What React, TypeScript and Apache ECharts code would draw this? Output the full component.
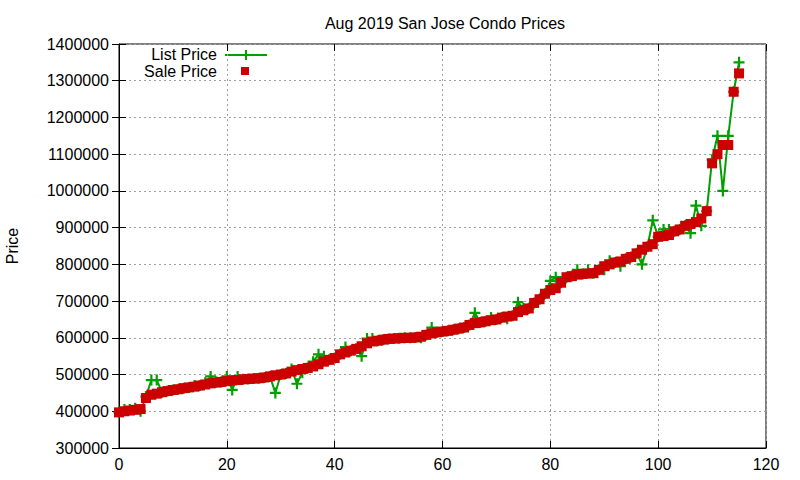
import React, { useEffect, useRef } from "react";
import * as echarts from "echarts";

const xIndex: number[] = Array.from({ length: 116 }, (_, i) => i);

const salePrices: number[] = [
  397000, 400000, 402000, 404000, 406000, 436000, 445000, 448000, 452000, 455000,
  458000, 460000, 463000, 465000, 467000, 470000, 473000, 476000, 478000, 480000,
  482000, 484000, 485000, 487000, 488000, 489000, 490000, 492000, 495000, 498000,
  500000, 503000, 508000, 512000, 515000, 518000, 522000, 528000, 535000, 540000,
  545000, 555000, 560000, 565000, 570000, 577000, 585000, 590000, 592000, 595000,
  597000, 598000, 599000, 600000, 600000, 601000, 603000, 608000, 612000, 615000,
  617000, 619000, 622000, 625000, 628000, 635000, 640000, 642000, 645000, 648000,
  650000, 655000, 658000, 660000, 670000, 675000, 680000, 695000, 705000, 720000,
  730000, 735000, 750000, 765000, 768000, 772000, 774000, 775000, 776000, 785000,
  795000, 800000, 805000, 808000, 815000, 820000, 830000, 840000, 848000, 855000,
  875000, 877000, 880000, 890000, 895000, 905000, 910000, 915000, 925000, 945000,
  1075000, 1100000, 1125000, 1125000, 1270000, 1320000,
];

const listPrices: number[] = [
  397000, 405000, 405000, 408000, 400000, 440000, 485000, 485000, 452000, 455000,
  458000, 460000, 463000, 465000, 470000, 470000, 478000, 495000, 480000, 480000,
  495000, 458000, 495000, 487000, 488000, 489000, 490000, 492000, 495000, 450000,
  500000, 503000, 515000, 475000, 505000, 518000, 535000, 555000, 550000, 540000,
  545000, 555000, 575000, 565000, 570000, 550000, 598000, 598000, 592000, 595000,
  597000, 598000, 599000, 600000, 600000, 601000, 600000, 608000, 628000, 615000,
  617000, 619000, 622000, 625000, 628000, 635000, 668000, 642000, 645000, 655000,
  650000, 655000, 652000, 660000, 697000, 680000, 680000, 695000, 705000, 720000,
  755000, 765000, 750000, 765000, 768000, 785000, 774000, 785000, 776000, 785000,
  785000, 810000, 805000, 795000, 815000, 820000, 830000, 800000, 848000, 920000,
  875000, 895000, 895000, 890000, 895000, 905000, 885000, 960000, 905000, 945000,
  1085000, 1150000, 1000000, 1150000, 1270000, 1350000,
];

const xTicks = { min: 0, max: 120, interval: 20 };
const yTicks = { min: 300000, max: 1400000, interval: 100000 };

const GREEN = "#00a000";
const RED = "#cc0000";
const FONT = "Liberation Sans, Arial, sans-serif";
const PLUS = "path://M4,0 H6 V4 H10 V6 H6 V10 H4 V6 H0 V4 H4 Z";

export default function App() {
  const ref = useRef<HTMLDivElement>(null);

  useEffect(() => {
    if (!ref.current) return;
    const chart = echarts.init(ref.current, undefined, { renderer: "svg" });

    const listData = xIndex.map((x, i) => [x, listPrices[i]]);
    const saleData = xIndex.map((x, i) => [x, salePrices[i]]);

    const tickLabel = { color: "#000", fontFamily: FONT, fontSize: 16 };
    const split = { show: true, lineStyle: { color: "#a0a0a0", type: [2, 3] as any, width: 1 } };
    const tick = { show: true, inside: true, length: 7, lineStyle: { color: "#000" } };

    chart.setOption({
      animation: false,
      backgroundColor: "#fff",
      title: {
        text: "Aug 2019 San Jose Condo Prices",
        left: 440,
        top: 10,
        textAlign: "center",
        textStyle: { fontFamily: FONT, fontSize: 16, fontWeight: "normal", color: "#000" },
      },
      grid: {
        left: 119,
        right: 34,
        top: 44,
        bottom: 32,
        containLabel: false,
        outerBoundsMode: "none",
        show: true,
        borderColor: "#000",
        borderWidth: 1,
        backgroundColor: "transparent",
      },
      legend: { show: false },
      xAxis: [
        {
          type: "value",
          ...xTicks,
          position: "bottom",
          axisLine: { show: true, lineStyle: { color: "#000" } },
          axisTick: tick,
          axisLabel: { ...tickLabel, margin: 8, formatter: (v: number) => String(v) },
          splitLine: split,
        },
        {
          type: "value",
          ...xTicks,
          position: "top",
          axisLine: { show: false },
          axisTick: tick,
          axisLabel: { show: false },
          splitLine: { show: false },
        },
      ],
      yAxis: [
        {
          type: "value",
          ...yTicks,
          position: "left",
          name: "Price",
          nameLocation: "middle",
          nameGap: 99,
          nameTextStyle: { fontFamily: FONT, fontSize: 16, color: "#000" },
          axisLine: { show: true, lineStyle: { color: "#000" } },
          axisTick: tick,
          axisLabel: { ...tickLabel, margin: 10, formatter: (v: number) => String(v) },
          splitLine: split,
        },
        {
          type: "value",
          ...yTicks,
          position: "right",
          axisLine: { show: false },
          axisTick: tick,
          axisLabel: { show: false },
          splitLine: { show: false },
        },
      ],
      series: [
        {
          name: "List Price",
          type: "line",
          data: listData,
          xAxisIndex: 0,
          yAxisIndex: 0,
          symbol: PLUS,
          symbolSize: 11,
          showAllSymbol: true,
          lineStyle: { color: GREEN, width: 2 },
          itemStyle: { color: GREEN, opacity: 1 },
          z: 2,
        },
        {
          name: "Sale Price",
          type: "scatter",
          data: saleData,
          xAxisIndex: 0,
          yAxisIndex: 0,
          symbol: "rect",
          symbolSize: 10,
          itemStyle: { color: RED, opacity: 1 },
          z: 3,
        },
      ],
      graphic: [
        {
          type: "text",
          right: 800 - 217,
          top: 46,
          style: { text: "List Price", font: `16px ${FONT}`, fill: "#000", textAlign: "right" },
        },
        {
          type: "line",
          shape: { x1: 225, y1: 55, x2: 267, y2: 55 },
          style: { stroke: GREEN, lineWidth: 2 },
        },
        {
          type: "polygon",
          shape: {
            points: [
              [245, 50], [247, 50], [247, 54], [251, 54], [251, 56], [247, 56],
              [247, 60], [245, 60], [245, 56], [241, 56], [241, 54], [245, 54],
            ],
          },
          style: { fill: GREEN },
        },
        {
          type: "text",
          right: 800 - 217,
          top: 63,
          style: { text: "Sale Price", font: `16px ${FONT}`, fill: "#000", textAlign: "right" },
        },
        {
          type: "rect",
          shape: { x: 241, y: 67, width: 8, height: 8 },
          style: { fill: RED },
        },
      ],
    });

    return () => chart.dispose();
  }, []);

  return (
    <div
      ref={ref}
      style={{ position: "absolute", left: 0, top: 0, width: 800, height: 480, background: "#fff" }}
    />
  );
}
